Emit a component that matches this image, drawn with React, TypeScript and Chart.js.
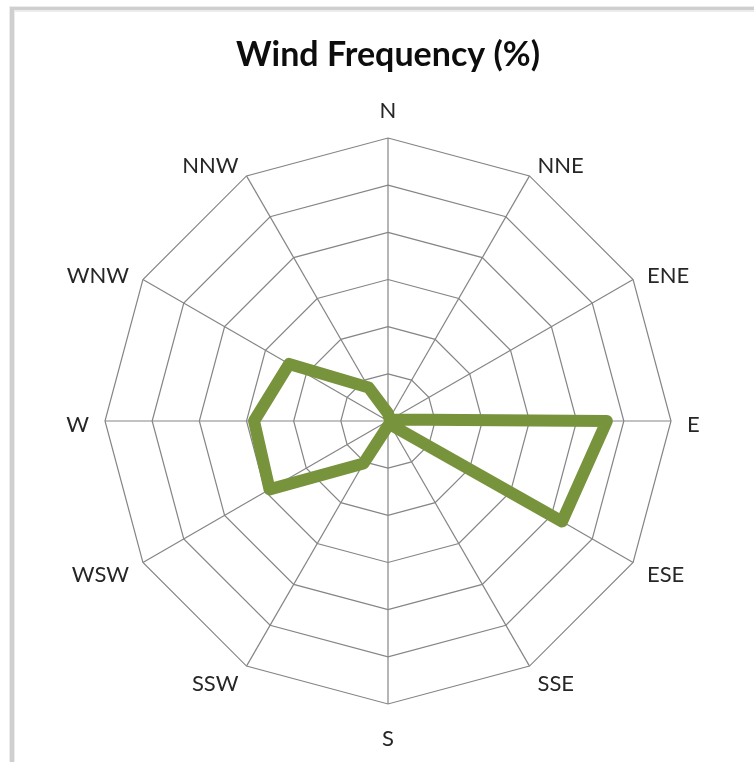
import React, { useEffect, useRef } from 'react';
import { Chart, registerables } from 'chart.js';

Chart.register(...registerables);

const directions = ['N', 'NNE', 'ENE', 'E', 'ESE', 'SSE', 'S', 'SSW', 'WSW', 'W', 'WNW', 'NNW'];
const frequency = [0.8, 0.3, 0.3, 23.2, 21.3, 0.4, 0.5, 5.2, 14.5, 14.2, 12.1, 4.1];
const scaleMax = 30;
const scaleStep = 5;
const chartTitle = 'Wind Frequency (%)';

const framePlugin = {
  id: 'frame',
  beforeDraw(chart: any) {
    const ctx = chart.ctx;
    ctx.save();
    ctx.fillStyle = '#ffffff';
    ctx.fillRect(0, 0, chart.width, chart.height);
    ctx.fillStyle = '#ececec';
    ctx.fillRect(9, 6, chart.width, 6);
    ctx.fillRect(9, 6, 6, chart.height);
    ctx.fillStyle = '#cfcfcf';
    ctx.fillRect(10, 7, chart.width, 3);
    ctx.fillRect(10, 7, 4, chart.height);
    ctx.restore();
  },
};

const labelPlugin = {
  id: 'dirLabels',
  afterDraw(chart: any) {
    const scale = chart.scales.r;
    const ctx = chart.ctx;
    const labels: string[] = chart.data.labels;
    ctx.save();
    ctx.font = '22px Lato';
    ctx.fillStyle = '#262626';
    ctx.textBaseline = 'middle';
    labels.forEach((lab, i) => {
      const angle = scale.getIndexAngle(i);
      const p = scale.getPointPosition(i, scale.drawingArea + 16);
      const s = Math.sin(angle);
      const c = Math.cos(angle);
      let align: CanvasTextAlign = 'center';
      let y = p.y + 4;
      if (Math.abs(s) < 0.01) {
        y -= c * 15;
      } else {
        align = s > 0 ? 'left' : 'right';
      }
      ctx.textAlign = align;
      ctx.fillText(lab, p.x, y);
    });
    ctx.restore();
  },
};

export default function App() {
  const canvasRef = useRef<HTMLCanvasElement | null>(null);

  useEffect(() => {
    if (!canvasRef.current) return;
    const chart = new Chart(canvasRef.current, {
      type: 'radar',
      data: {
        labels: directions,
        datasets: [
          {
            data: frequency,
            borderColor: '#77933C',
            backgroundColor: 'rgba(0,0,0,0)',
            borderWidth: 12,
            pointRadius: 0,
            fill: false,
            borderJoinStyle: 'round',
          } as any,
        ],
      },
      options: {
        responsive: false,
        animation: false,
        layout: { padding: { left: 105, right: 83, top: 0, bottom: 58 } },
        plugins: {
          legend: { display: false },
          tooltip: { enabled: false },
          title: {
            display: true,
            text: chartTitle,
            color: '#0d0d0d',
            font: { family: 'Lato', size: 34, weight: 'bold', lineHeight: 1.2 },
            padding: { top: 34.6, bottom: 62.6 },
          },
        },
        scales: {
          r: {
            min: 0,
            max: scaleMax,
            ticks: { stepSize: scaleStep, display: false },
            grid: { color: '#858585', lineWidth: 1.2 },
            angleLines: { color: '#858585', lineWidth: 1.2 },
            pointLabels: { display: false },
          },
        },
      },
      plugins: [framePlugin, labelPlugin],
    });
    return () => chart.destroy();
  }, []);

  return (
    <div style={{ position: 'fixed', left: 0, top: 0, width: 754, height: 762, background: '#fff' }}>
      <canvas ref={canvasRef} width={754} height={762} style={{ display: 'block', width: 754, height: 762 }} />
    </div>
  );
}
